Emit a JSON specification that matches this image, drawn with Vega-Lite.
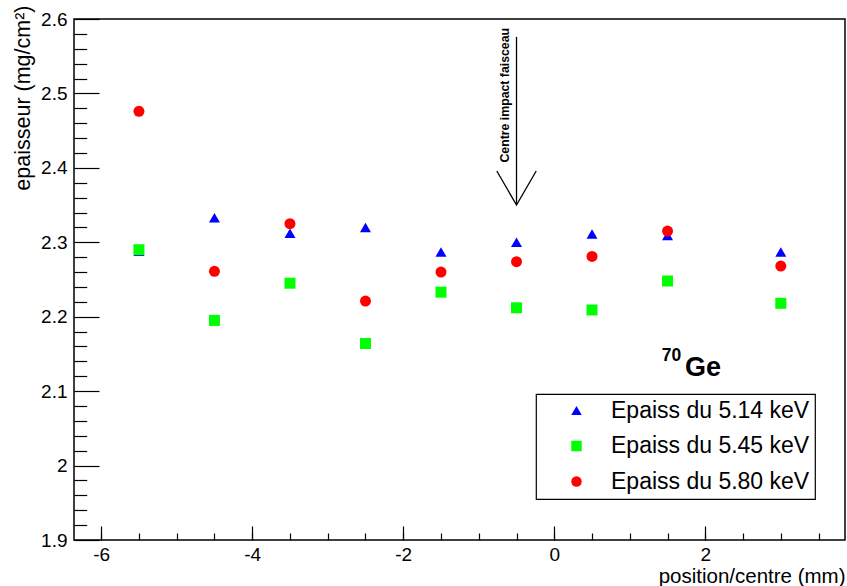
{
  "$schema": "https://vega.github.io/schema/vega-lite/v6.json",
  "width": 771,
  "height": 521,
  "autosize": {"type": "none"},
  "padding": {"left": 74, "top": 19, "right": 2, "bottom": 46},
  "background": "white",
  "config": {
    "view": {"stroke": "black", "strokeWidth": 1.5},
    "font": "Liberation Sans",
    "axis": {
      "labelFont": "Liberation Sans",
      "titleFont": "Liberation Sans",
      "labelColor": "black",
      "titleColor": "black",
      "tickColor": "black",
      "tickWidth": 1.2,
      "grid": false,
      "domain": false,
      "titleFontWeight": "normal"
    },
    "legend": {
      "orient": "none",
      "legendX": 462,
      "legendY": 375,
      "strokeColor": "black",
      "strokeWidth": 1.2,
      "fillColor": "white",
      "padding": 5,
      "rowPadding": 11.5,
      "labelFontSize": 23,
      "labelFont": "Liberation Sans",
      "labelColor": "black",
      "labelLimit": 400,
      "symbolOffset": 24,
      "labelOffset": 23,
      "symbolSize": 110,
      "symbolStrokeWidth": 0
    }
  },
  "datasets": {
    "pts": [
      {"x": -5.5, "y": 2.288, "series": "Epaiss du 5.14 keV"},
      {"x": -4.5, "y": 2.333, "series": "Epaiss du 5.14 keV"},
      {"x": -3.5, "y": 2.312, "series": "Epaiss du 5.14 keV"},
      {"x": -2.5, "y": 2.320, "series": "Epaiss du 5.14 keV"},
      {"x": -1.5, "y": 2.287, "series": "Epaiss du 5.14 keV"},
      {"x": -0.5, "y": 2.300, "series": "Epaiss du 5.14 keV"},
      {"x": 0.5, "y": 2.311, "series": "Epaiss du 5.14 keV"},
      {"x": 1.5, "y": 2.309, "series": "Epaiss du 5.14 keV"},
      {"x": 3.0, "y": 2.287, "series": "Epaiss du 5.14 keV"},
      {"x": -5.5, "y": 2.290, "series": "Epaiss du 5.45 keV"},
      {"x": -4.5, "y": 2.195, "series": "Epaiss du 5.45 keV"},
      {"x": -3.5, "y": 2.245, "series": "Epaiss du 5.45 keV"},
      {"x": -2.5, "y": 2.164, "series": "Epaiss du 5.45 keV"},
      {"x": -1.5, "y": 2.233, "series": "Epaiss du 5.45 keV"},
      {"x": -0.5, "y": 2.212, "series": "Epaiss du 5.45 keV"},
      {"x": 0.5, "y": 2.209, "series": "Epaiss du 5.45 keV"},
      {"x": 1.5, "y": 2.248, "series": "Epaiss du 5.45 keV"},
      {"x": 3.0, "y": 2.218, "series": "Epaiss du 5.45 keV"},
      {"x": -5.5, "y": 2.476, "series": "Epaiss du 5.80 keV"},
      {"x": -4.5, "y": 2.261, "series": "Epaiss du 5.80 keV"},
      {"x": -3.5, "y": 2.325, "series": "Epaiss du 5.80 keV"},
      {"x": -2.5, "y": 2.221, "series": "Epaiss du 5.80 keV"},
      {"x": -1.5, "y": 2.260, "series": "Epaiss du 5.80 keV"},
      {"x": -0.5, "y": 2.274, "series": "Epaiss du 5.80 keV"},
      {"x": 0.5, "y": 2.281, "series": "Epaiss du 5.80 keV"},
      {"x": 1.5, "y": 2.315, "series": "Epaiss du 5.80 keV"},
      {"x": 3.0, "y": 2.268, "series": "Epaiss du 5.80 keV"}
    ]
  },
  "layer": [
    {
      "layer": [
        {
          "data": {"name": "pts"},
          "mark": {"type": "point", "filled": true, "opacity": 1, "size": 121},
          "encoding": {
            "x": {
              "field": "x",
              "type": "quantitative",
              "scale": {"domain": [-6.36, 3.85], "nice": false, "zero": false},
              "axis": {
                "orient": "bottom",
                "values": [-6, -4, -2, 0, 2],
                "tickSize": -14,
                "labelPadding": 19,
                "labelFontSize": 19,
                "labelExpr": "'' + datum.value",
                "title": "position/centre (mm)",
                "titleFontSize": 20.5,
                "titleAnchor": "end",
                "titleAlign": "right",
                "titleBaseline": "alphabetic",
                "titleX": 771,
                "titleY": 42
              }
            },
            "y": {
              "field": "y",
              "type": "quantitative",
              "scale": {"domain": [1.9, 2.6], "nice": false, "zero": false},
              "axis": {
                "orient": "left",
                "values": [1.9, 2.0, 2.1, 2.2, 2.3, 2.4, 2.5, 2.6],
                "tickSize": -25,
                "labelPadding": 32,
                "labelFontSize": 19,
                "labelExpr": "'' + datum.value",
                "title": "epaisseur (mg/cm²)",
                "titleFontSize": 21.5,
                "titleAngle": 270,
                "titleAlign": "right",
                "titleBaseline": "alphabetic",
                "titleX": -45,
                "titleY": -14
              }
            },
            "color": {
              "field": "series",
              "type": "nominal",
              "scale": {
                "domain": ["Epaiss du 5.14 keV", "Epaiss du 5.45 keV", "Epaiss du 5.80 keV"],
                "range": ["#0000ff", "#00ff00", "#ff0000"]
              },
              "legend": {"title": null, "labelExpr": "datum.label + '\u00a0\u00a0\u00a0'"}
            },
            "shape": {
              "field": "series",
              "type": "nominal",
              "scale": {
                "domain": ["Epaiss du 5.14 keV", "Epaiss du 5.45 keV", "Epaiss du 5.80 keV"],
                "range": ["triangle-up", "square", "circle"]
              },
              "legend": {"title": null, "labelExpr": "datum.label + '\u00a0\u00a0\u00a0'"}
            }
          }
        },
        {
          "data": {"values": [{}]},
          "mark": {"type": "rule", "color": "black", "strokeWidth": 1.3},
          "encoding": {
            "x": {"datum": -0.5, "type": "quantitative"},
            "y": {"datum": 2.576, "type": "quantitative"},
            "y2": {"datum": 2.35}
          }
        },
        {
          "data": {"values": [{}]},
          "mark": {"type": "point", "shape": "M-1,-1.73L0,0L1,-1.73", "filled": false, "stroke": "black", "strokeWidth": 1.3, "size": 1552, "opacity": 1},
          "encoding": {
            "x": {"datum": -0.5, "type": "quantitative"},
            "y": {"datum": 2.35, "type": "quantitative"}
          }
        },
        {
          "data": {"values": [{}]},
          "mark": {"type": "text", "text": "Centre impact faisceau", "angle": 270, "align": "right", "baseline": "alphabetic", "fontSize": 12.3, "fontWeight": "bold", "font": "Liberation Sans", "dy": -8, "color": "black"},
          "encoding": {
            "x": {"datum": -0.5, "type": "quantitative"},
            "y": {"datum": 2.588, "type": "quantitative"}
          }
        },
        {
          "data": {"values": [{}]},
          "mark": {"type": "text", "text": "70", "align": "left", "baseline": "alphabetic", "fontSize": 17.5, "fontWeight": "bold", "font": "Liberation Sans", "color": "black"},
          "encoding": {
            "x": {"datum": 1.4225, "type": "quantitative"},
            "y": {"datum": 2.141, "type": "quantitative"}
          }
        },
        {
          "data": {"values": [{}]},
          "mark": {"type": "text", "text": "Ge", "align": "left", "baseline": "alphabetic", "fontSize": 27, "fontWeight": "bold", "font": "Liberation Sans", "color": "black"},
          "encoding": {
            "x": {"datum": 1.731, "type": "quantitative"},
            "y": {"datum": 2.1197, "type": "quantitative"}
          }
        }
      ]
    },
    {
      "data": {"name": "pts"},
      "mark": {"type": "point", "opacity": 0},
      "encoding": {
        "x": {
          "field": "x",
          "type": "quantitative",
          "scale": {"domain": [-6.36, 3.85], "nice": false, "zero": false},
          "axis": {
            "orient": "bottom",
            "values": [-6, -5.5, -5, -4.5, -4, -3.5, -3, -2.5, -2, -1.5, -1, -0.5, 0, 0.5, 1, 1.5, 2, 2.5, 3, 3.5],
            "tickSize": -7,
            "labels": false,
            "title": null
          }
        },
        "y": {
          "field": "y",
          "type": "quantitative",
          "scale": {"domain": [1.9, 2.6], "nice": false, "zero": false},
          "axis": {
            "orient": "left",
            "values": [1.92, 1.94, 1.96, 1.98, 2.02, 2.04, 2.06, 2.08, 2.12, 2.14, 2.16, 2.18, 2.22, 2.24, 2.26, 2.28, 2.32, 2.34, 2.36, 2.38, 2.42, 2.44, 2.46, 2.48, 2.52, 2.54, 2.56, 2.58],
            "tickSize": -12.7,
            "labels": false,
            "title": null
          }
        }
      }
    }
  ],
  "resolve": {"scale": {"x": "independent", "y": "independent"}}
}
